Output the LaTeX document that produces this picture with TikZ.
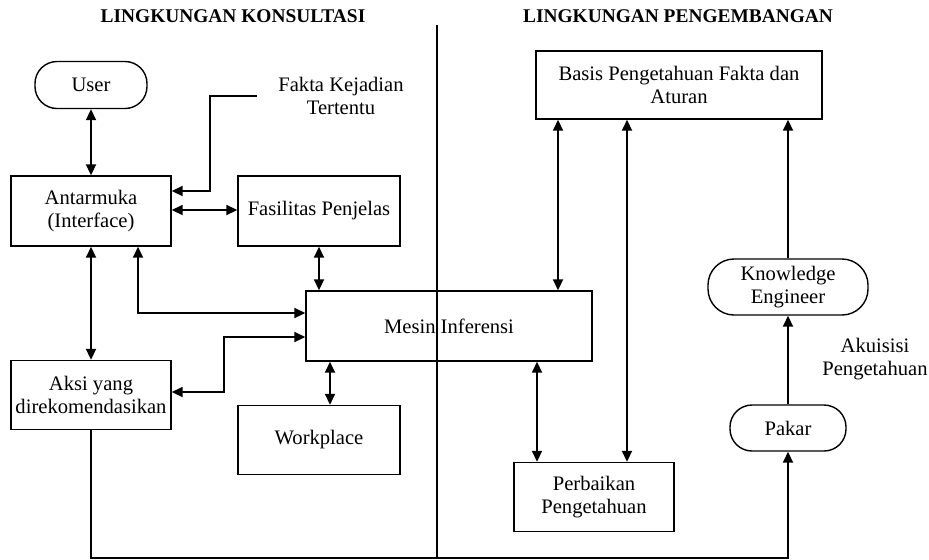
\documentclass[tikz,border=0pt]{standalone}
\usepackage{fontspec}
\setmainfont{Liberation Serif}
\usetikzlibrary{arrows.meta,positioning}

\tikzset{
	kotak/.style={draw, line width=0.7pt, inner sep=0pt, align=center,
		font=\fontsize{10.3}{11.5}\selectfont},
	kapsul/.style={kotak, rounded corners=11pt},
	teks/.style={inner sep=0pt, align=center, font=\fontsize{10.3}{11.5}\selectfont},
	judul/.style={inner sep=0pt, font=\fontsize{9.7}{11}\selectfont\bfseries},
	panah/.style={-{Triangle[length=5.5pt,width=5pt]}, line width=0.9pt},
	duapanah/.style={{Triangle[length=5.5pt,width=5pt]}-{Triangle[length=5.5pt,width=5pt]}, line width=0.9pt}
}

\begin{document}
\begin{tikzpicture}[x=0.5pt,y=-0.5pt]
	\useasboundingbox (0,0) rectangle (929,559);

	%Draws the two headings and the dividing line
	\node[judul] (kons) at (233,16) {LINGKUNGAN KONSULTASI};
	\node[judul] (pengem) at (678,16) {LINGKUNGAN PENGEMBANGAN};
	\draw[line width=0.8pt] (437,25) -- (437,559);

	%Draws the boxes of the consultation side
	\node[kapsul, minimum width=56pt, minimum height=23.5pt] (user) at (91,85) {User};
	\node[teks] (fakta) at (341,96) {Fakta Kejadian\\Tertentu};
	\node[kotak, minimum width=80pt, minimum height=35pt] (ant) at (91,211) {Antarmuka\\(Interface)};
	\node[kotak, minimum width=81pt, minimum height=35pt] (fas) at (319,211) {Fasilitas Penjelas};
	\node[kotak, minimum width=143pt, minimum height=35pt] (mesin) at (449,326) {Mesin Inferensi};
	\node[kotak, minimum width=80pt, minimum height=34.5pt] (aksi) at (91,395) {Aksi yang\\direkomendasikan};
	\node[kotak, minimum width=81pt, minimum height=34.5pt] (work) at (319,440) {Workplace};

	%Draws the boxes of the development side
	\node[kotak, minimum width=143pt, minimum height=34pt] (basis) at (679,85) {Basis Pengetahuan Fakta dan\\Aturan};
	\node[kotak, minimum width=80pt, minimum height=34.5pt] (perb) at (594,497) {Perbaikan\\Pengetahuan};
	\node[kapsul, minimum width=80pt, minimum height=28pt, rounded corners=13pt] (ke) at (788,287) {Knowledge\\Engineer};
	\node[kapsul, minimum width=58pt, minimum height=23pt] (pakar) at (788,428) {Pakar};
	\node[teks] (akuisisi) at (875,359) {Akuisisi\\Pengetahuan};

	%Draws the connectors of the consultation side
	\draw[duapanah] (user) -- (ant);
	\draw[panah] ([xshift=-10.5pt]fakta.west) -- ++(-47,0) |- ([yshift=10pt]ant.east);
	\draw[duapanah] ([yshift=0.5pt]ant.east) -- ([yshift=0.5pt]fas.west);
	\draw[duapanah] (fas.south) -- (fas.south |- mesin.north);
	\draw[duapanah] (ant) -- (aksi);
	\draw[duapanah] ([xshift=23.5pt]ant.south) |- ([yshift=6.5pt]mesin.west);
	\draw[duapanah] ([yshift=-5.5pt]mesin.west) -- ++(-81,0) |- ([yshift=1.5pt]aksi.east);
	\draw[duapanah] ([xshift=5.5pt]work.north) -- ([xshift=5.5pt]work.north |- mesin.south);

	%Draws the connectors of the development side
	\draw[duapanah] ([xshift=-60.5pt]basis.south) -- ([xshift=-60.5pt]basis.south |- mesin.north);
	\draw[duapanah] ([xshift=16.5pt]perb.north) -- ([xshift=16.5pt]perb.north |- basis.south);
	\draw[duapanah] ([xshift=-28.5pt]perb.north) -- ([xshift=-28.5pt]perb.north |- mesin.south);
	\draw[panah] (ke.north) -- (ke.north |- basis.south);
	\draw[panah] (pakar) -- (ke);

	%Draws the return line from the recommended action to the expert
	\draw[panah] (aksi.south) -- ++(0,128) -| (pakar.south);
\end{tikzpicture}
\end{document}
